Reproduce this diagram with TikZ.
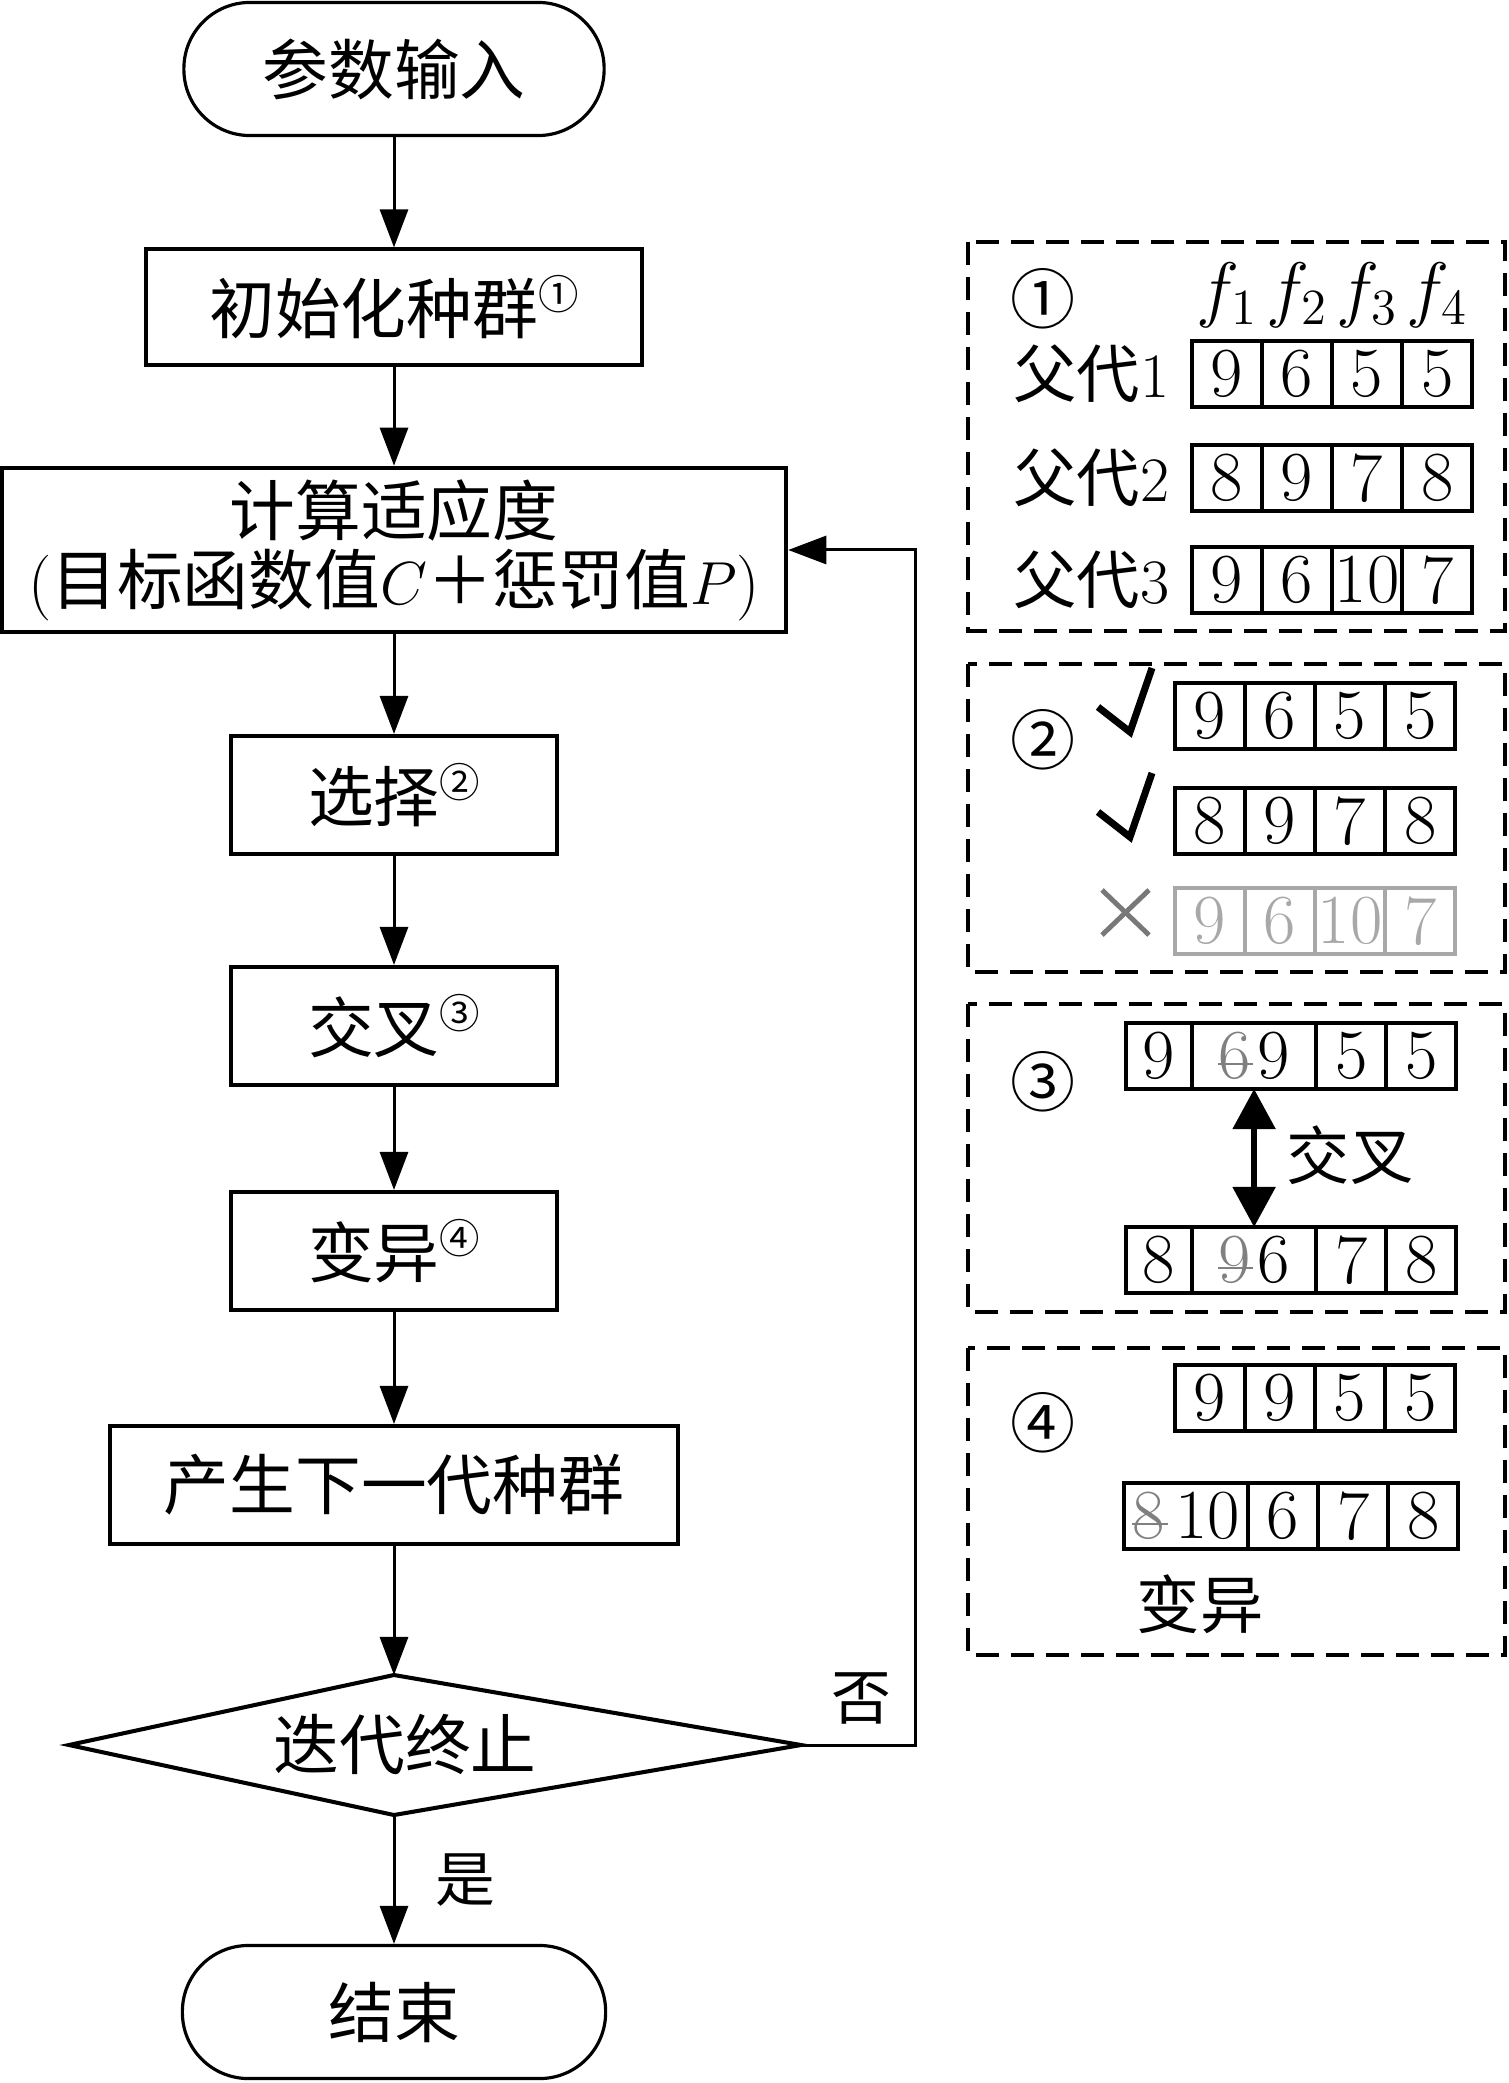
\documentclass[tikz,border=0pt]{standalone}
\usepackage{fontspec}
\newfontfamily\cjk{Noto Sans CJK SC}
\usetikzlibrary{positioning,
                arrows.meta}

\definecolor{struckgray}{HTML}{808080}
\definecolor{dropgray}{HTML}{A8A8A8}
\definecolor{crossgray}{HTML}{787878}

\newcommand\circnum[1]{\raisebox{0.36em}{\fontsize{11.5}{11.5}\selectfont #1}}
\newcommand\gone[1]{{\color{struckgray}\makebox[0pt][l]{\rule[0.19em]{0.5em}{0.6pt}}#1}}

\begin{document}
\begin{tikzpicture}[x=0.01cm, y=-0.01cm,
    term/.style={draw, line width=0.9pt, rounded corners=0.66cm,
                 minimum width=4.2cm, minimum height=1.33cm,
                 font=\fontsize{18.7}{19.6}\selectfont\cjk},
    proc/.style={draw, line width=1.15pt, minimum width=3.25cm,
                 minimum height=1.18cm, font=\fontsize{18.7}{19.6}\selectfont\cjk},
    arrow/.style={line width=0.85pt, -{Triangle[length=0.38cm,width=0.28cm]}},
    panel/.style={line width=1pt, dash pattern=on 0.23cm off 0.12cm},
    cell/.style={draw, line width=1.1pt, inner sep=0pt, outer sep=0pt,
                 minimum width=0.70cm, minimum height=0.66cm,
                 font=\fontsize{20}{20}\selectfont},
    widecell/.style={cell, minimum width=1.24cm},
    dropped/.style={cell, draw=dropgray, text=dropgray},
    numlabel/.style={inner sep=0pt, font=\fontsize{18.5}{18.5}\selectfont\cjk},
    plabel/.style={inner sep=0pt, font=\fontsize{18}{18}\selectfont\cjk},
    rowlabel/.style={inner sep=0pt, font=\fontsize{18}{18}\selectfont},
    flabel/.style={inner sep=0pt, font=\fontsize{20}{20}\selectfont},
    okmark/.style={line width=2pt},
    nomark/.style={draw=crossgray, line width=1.4pt},
    xarrow/.style={line width=1.5pt,
                   {Triangle[length=0.40cm,width=0.42cm]}-{Triangle[length=0.40cm,width=0.42cm]}}]
    \useasboundingbox (0,0) rectangle (1508,2083);

    % Ablauf
    \node[term] (start) at (394,69) {参数输入};
    \node[proc, minimum width=4.96cm, minimum height=1.15cm] (init) at (394,307) {初始化种群\circnum{①}};
    \node[proc, minimum width=7.84cm, minimum height=1.56cm, align=center] (fitness) at (394,550)
        {计算适应度\\\textrm{(}目标函数值$C$＋惩罚值$P$\textrm{)}};
    \node[proc] (select) at (394,795) {选择\circnum{②}};
    \node[proc] (crossover) at (394,1026) {交叉\circnum{③}};
    \node[proc] (mutate) at (394,1251) {变异\circnum{④}};
    \node[proc, minimum width=5.68cm] (nextgen) at (394,1485) {产生下一代种群};

    \coordinate (dtop)   at (394,1675);
    \coordinate (dright) at (801,1745);
    \coordinate (dbot)   at (394,1815);
    \coordinate (dleft)  at (69,1745);
    \draw[line width=1.15pt] (dtop) -- (dright) -- (dbot) -- (dleft) -- cycle;
    \node[font=\fontsize{18.7}{19.6}\selectfont\cjk] (stop) at (405,1745) {迭代终止};

    \node[term, minimum width=4.23cm] (finish) at (394,2012) {结束};

    \draw[arrow] (start) -- (init);
    \draw[arrow] (init) -- (fitness);
    \draw[arrow] (fitness) -- (select);
    \draw[arrow] (select) -- (crossover);
    \draw[arrow] (crossover) -- (mutate);
    \draw[arrow] (mutate) -- (nextgen);
    \draw[arrow] (nextgen) -- (dtop);
    \draw[arrow] (dbot) -- (finish);
    \draw[arrow] (dright) -- ++(114,0) |- (fitness.east);
    \node[plabel, font=\fontsize{17}{17}\selectfont\cjk] (no) at (861,1698) {否};
    \node[plabel, font=\fontsize{17}{17}\selectfont\cjk] (yes) at (465,1880) {是};

    % 1 Initialisierung
    \draw[panel] (968,242) rectangle (1505,631);
    \node[numlabel] (n1) at (1043,299) {①};
    \node[cell, anchor=north west] (a11) at (1192,341) {9};
    \node[cell, right=0cm of a11] (b11) {6};
    \node[cell, right=0cm of b11] (c11) {5};
    \node[cell, right=0cm of c11] (d11) {5};
    \node[rowlabel, left=0.22cm of a11] (l11) {{\cjk 父代}1};
    \node[flabel, above=0.13cm of a11] (f1) {$f_1$};
    \node[flabel, above=0.13cm of b11] (f2) {$f_2$};
    \node[flabel, above=0.13cm of c11] (f3) {$f_3$};
    \node[flabel, above=0.13cm of d11] (f4) {$f_4$};

    \node[cell, anchor=north west] (a12) at (1192,445) {8};
    \node[cell, right=0cm of a12] (b12) {9};
    \node[cell, right=0cm of b12] (c12) {7};
    \node[cell, right=0cm of c12] (d12) {8};
    \node[rowlabel, left=0.22cm of a12] (l12) {{\cjk 父代}2};

    \node[cell, anchor=north west] (a13) at (1192,547) {9};
    \node[cell, right=0cm of a13] (b13) {6};
    \node[cell, right=0cm of b13] (c13) {10};
    \node[cell, right=0cm of c13] (d13) {7};
    \node[rowlabel, left=0.22cm of a13] (l13) {{\cjk 父代}3};

    % 2 Selektion
    \draw[panel] (968,664) rectangle (1505,972);
    \node[numlabel] (n2) at (1043,740) {②};
    \node[cell, anchor=north west] (a21) at (1175,683) {9};
    \node[cell, right=0cm of a21] (b21) {6};
    \node[cell, right=0cm of b21] (c21) {5};
    \node[cell, right=0cm of c21] (d21) {5};
    \draw[okmark] ([shift={(-77,-9)}]a21.west) -- ++(32,25) -- ++(22,-64);

    \node[cell, anchor=north west] (a22) at (1175,788) {8};
    \node[cell, right=0cm of a22] (b22) {9};
    \node[cell, right=0cm of b22] (c22) {7};
    \node[cell, right=0cm of c22] (d22) {8};
    \draw[okmark] ([shift={(-77,-9)}]a22.west) -- ++(32,25) -- ++(22,-64);

    \node[dropped, anchor=north west] (a23) at (1175,888) {9};
    \node[dropped, right=0cm of a23] (b23) {6};
    \node[dropped, right=0cm of b23] (c23) {10};
    \node[dropped, right=0cm of c23] (d23) {7};
    \draw[nomark] ([shift={(-73,-31)}]a23.west) -- ++(47,45);
    \draw[nomark] ([shift={(-73,14)}]a23.west) -- ++(47,-45);

    % 3 Kreuzung
    \draw[panel] (968,1004) rectangle (1505,1312);
    \node[numlabel] (n3) at (1043,1082) {③};
    \node[cell, minimum width=0.66cm, anchor=north west] (a31) at (1126,1023) {9};
    \node[widecell, right=0cm of a31] (b31) {\gone{6}\hspace{0.1em}9};
    \node[cell, right=0cm of b31] (c31) {5};
    \node[cell, right=0cm of c31] (d31) {5};

    \node[cell, minimum width=0.66cm, anchor=north west] (a32) at (1126,1227) {8};
    \node[widecell, right=0cm of a32] (b32) {\gone{9}\hspace{0.1em}6};
    \node[cell, right=0cm of b32] (c32) {7};
    \node[cell, right=0cm of c32] (d32) {8};

    \draw[xarrow] (b31) -- (b32);
    \node[plabel] (xlabel) at (1350,1155) {交叉};

    % 4 Mutation
    \draw[panel] (968,1348) rectangle (1505,1655);
    \node[numlabel] (n4) at (1043,1423) {④};
    \node[cell, anchor=north west] (a41) at (1175,1365) {9};
    \node[cell, right=0cm of a41] (b41) {9};
    \node[cell, right=0cm of b41] (c41) {5};
    \node[cell, right=0cm of c41] (d41) {5};

    \node[widecell, anchor=north west] (a42) at (1124,1483) {\gone{8}\hspace{0.15em}10};
    \node[cell, right=0cm of a42] (b42) {6};
    \node[cell, right=0cm of b42] (c42) {7};
    \node[cell, right=0cm of c42] (d42) {8};
    \node[plabel] (mlabel) at (1200,1604) {变异};

\end{tikzpicture}
\end{document}
